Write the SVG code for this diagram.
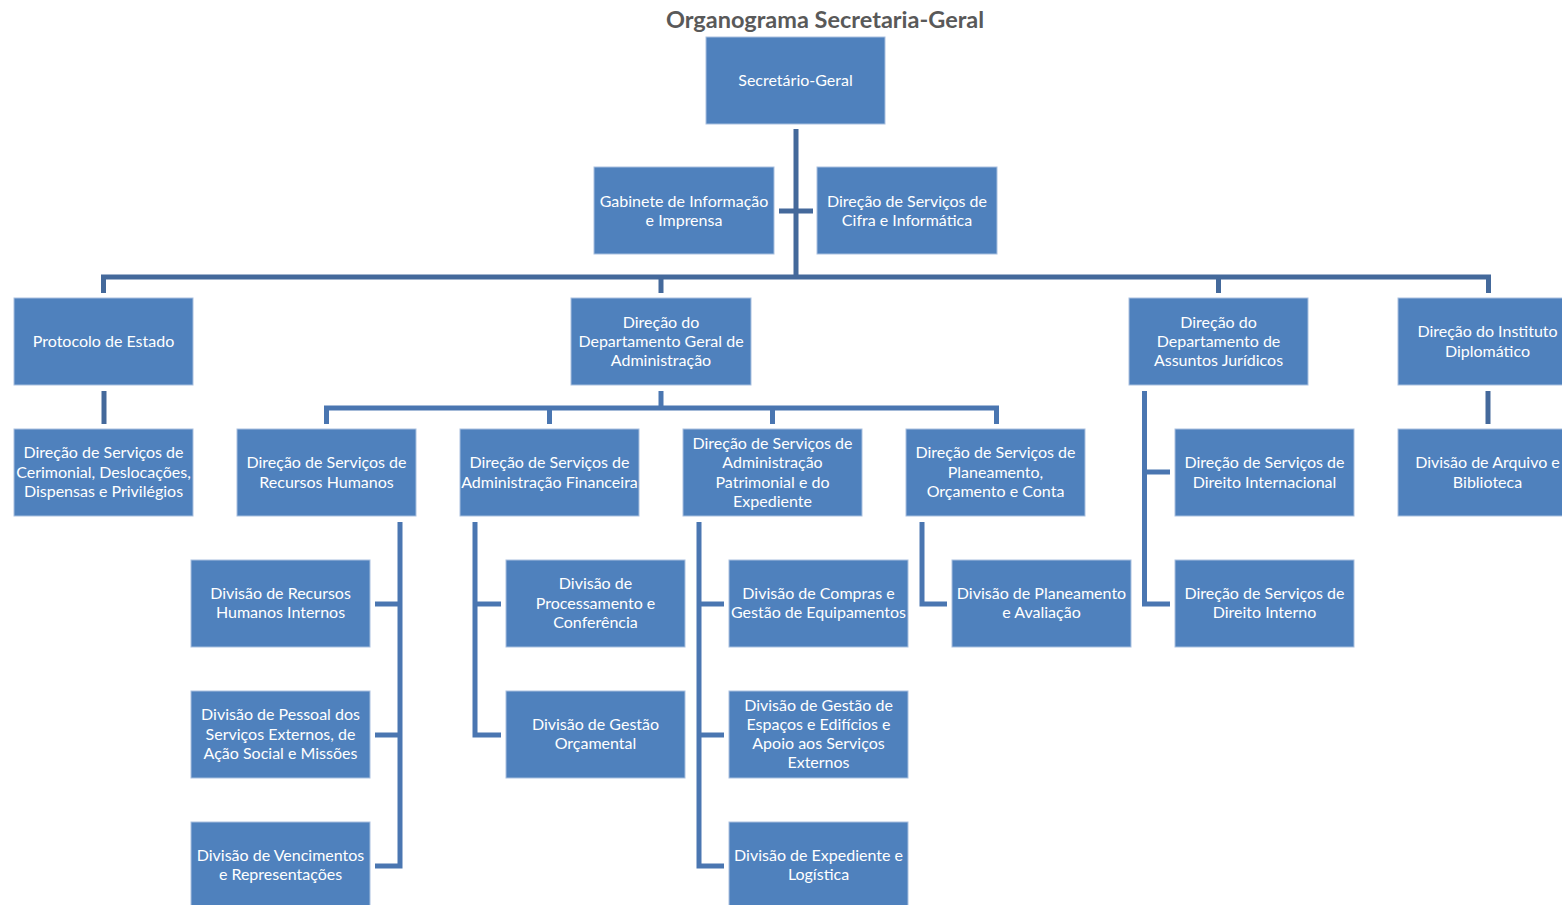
<svg xmlns="http://www.w3.org/2000/svg" width="1562" height="905" viewBox="0 0 1562 905">
<style>
.b{fill:#4F81BD;stroke:#A9C0DF;stroke-width:1}
.t{font-family:Lato,"Open Sans","Liberation Sans",sans-serif;font-size:16px;fill:#FFFFFF;text-anchor:middle}
.ti{font-family:Lato,"Open Sans","Liberation Sans",sans-serif;font-size:23.5px;font-weight:bold;fill:#595959;text-anchor:middle}
.c{fill:none;stroke:#44699B;stroke-width:5;stroke-linejoin:miter}
.c2{fill:none;stroke:#4A76B1;stroke-width:5;stroke-linejoin:miter}
</style>
<rect width="1562" height="905" fill="#FFFFFF"/>
<text class="ti" x="825" y="28">Organograma Secretaria-Geral</text>
<g id="connectors">
<path class="c" d="M796 129V277"/>
<path class="c" d="M779 211H813"/>
<path class="c" d="M103.5 293V277H1488.5V293"/>
<path class="c" d="M661 277V293"/>
<path class="c" d="M1218.5 277V293"/>
<path class="c" d="M104 391V424"/>
<path class="c" d="M1488 391V424"/>
<path class="c2" d="M661 391V408"/>
<path class="c2" d="M326.5 424V408H996.5V424"/>
<path class="c2" d="M549.5 408V424"/>
<path class="c2" d="M772.5 408V424"/>
<path class="c2" d="M1144.5 391V604H1170"/>
<path class="c2" d="M1144.5 472H1170"/>
<path class="c2" d="M400 522V866H375"/>
<path class="c2" d="M375 604H400"/>
<path class="c2" d="M375 735H400"/>
<path class="c2" d="M475 522V735H501"/>
<path class="c2" d="M475 604H501"/>
<path class="c2" d="M699 522V866H724"/>
<path class="c2" d="M699 604H724"/>
<path class="c2" d="M699 735H724"/>
<path class="c2" d="M922 522V604H947"/>
</g>
<g id="n-sg"><rect class="b" x="706" y="37" width="179" height="87"/><text class="t" x="795.5" y="86">Secretário-Geral</text></g>
<g id="n-gab"><rect class="b" x="594" y="167" width="180" height="87"/><text class="t" x="684" y="207">Gabinete de Informação</text><text class="t" x="684" y="226">e Imprensa</text></g>
<g id="n-cifra"><rect class="b" x="817" y="167" width="180" height="87"/><text class="t" x="907" y="207">Direção de Serviços de</text><text class="t" x="907" y="226">Cifra e Informática</text></g>
<g id="n-prot"><rect class="b" x="14" y="298" width="179" height="87"/><text class="t" x="103.5" y="347">Protocolo de Estado</text></g>
<g id="n-dga"><rect class="b" x="571" y="298" width="180" height="87"/><text class="t" x="661" y="328">Direção do</text><text class="t" x="661" y="347">Departamento Geral de</text><text class="t" x="661" y="366">Administração</text></g>
<g id="n-daj"><rect class="b" x="1129" y="298" width="179" height="87"/><text class="t" x="1218.5" y="328">Direção do</text><text class="t" x="1218.5" y="347">Departamento de</text><text class="t" x="1218.5" y="366">Assuntos Jurídicos</text></g>
<g id="n-idi"><rect class="b" x="1398" y="298" width="179" height="87"/><text class="t" x="1487.5" y="337">Direção do Instituto</text><text class="t" x="1487.5" y="357">Diplomático</text></g>
<g id="n-cer"><rect class="b" x="14" y="429" width="179" height="87"/><text class="t" x="103.5" y="458">Direção de Serviços de</text><text class="t" x="103.5" y="478">Cerimonial, Deslocações,</text><text class="t" x="103.5" y="497">Dispensas e Privilégios</text></g>
<g id="n-rh"><rect class="b" x="237" y="429" width="179" height="87"/><text class="t" x="326.5" y="468">Direção de Serviços de</text><text class="t" x="326.5" y="488">Recursos Humanos</text></g>
<g id="n-af"><rect class="b" x="460" y="429" width="179" height="87"/><text class="t" x="549.5" y="468">Direção de Serviços de</text><text class="t" x="549.5" y="488">Administração Financeira</text></g>
<g id="n-ap"><rect class="b" x="683" y="429" width="179" height="87"/><text class="t" x="772.5" y="449">Direção de Serviços de</text><text class="t" x="772.5" y="468">Administração</text><text class="t" x="772.5" y="488">Patrimonial e do</text><text class="t" x="772.5" y="507">Expediente</text></g>
<g id="n-poc"><rect class="b" x="906" y="429" width="179" height="87"/><text class="t" x="995.5" y="458">Direção de Serviços de</text><text class="t" x="995.5" y="478">Planeamento,</text><text class="t" x="995.5" y="497">Orçamento e Conta</text></g>
<g id="n-di"><rect class="b" x="1175" y="429" width="179" height="87"/><text class="t" x="1264.5" y="468">Direção de Serviços de</text><text class="t" x="1264.5" y="488">Direito Internacional</text></g>
<g id="n-arq"><rect class="b" x="1398" y="429" width="179" height="87"/><text class="t" x="1487.5" y="468">Divisão de Arquivo e</text><text class="t" x="1487.5" y="488">Biblioteca</text></g>
<g id="n-rhi"><rect class="b" x="191" y="560" width="179" height="87"/><text class="t" x="280.5" y="599">Divisão de Recursos</text><text class="t" x="280.5" y="618">Humanos Internos</text></g>
<g id="n-proc"><rect class="b" x="506" y="560" width="179" height="87"/><text class="t" x="595.5" y="589">Divisão de</text><text class="t" x="595.5" y="609">Processamento e</text><text class="t" x="595.5" y="628">Conferência</text></g>
<g id="n-comp"><rect class="b" x="729" y="560" width="179" height="87"/><text class="t" x="818.5" y="599">Divisão de Compras e</text><text class="t" x="818.5" y="618">Gestão de Equipamentos</text></g>
<g id="n-pla"><rect class="b" x="952" y="560" width="179" height="87"/><text class="t" x="1041.5" y="599">Divisão de Planeamento</text><text class="t" x="1041.5" y="618">e Avaliação</text></g>
<g id="n-dint"><rect class="b" x="1175" y="560" width="179" height="87"/><text class="t" x="1264.5" y="599">Direção de Serviços de</text><text class="t" x="1264.5" y="618">Direito Interno</text></g>
<g id="n-pes"><rect class="b" x="191" y="691" width="179" height="87"/><text class="t" x="280.5" y="720">Divisão de Pessoal dos</text><text class="t" x="280.5" y="740">Serviços Externos, de</text><text class="t" x="280.5" y="759">Ação Social e Missões</text></g>
<g id="n-orc"><rect class="b" x="506" y="691" width="179" height="87"/><text class="t" x="595.5" y="730">Divisão de Gestão</text><text class="t" x="595.5" y="749">Orçamental</text></g>
<g id="n-esp"><rect class="b" x="729" y="691" width="179" height="87"/><text class="t" x="818.5" y="711">Divisão de Gestão de</text><text class="t" x="818.5" y="730">Espaços e Edifícios e</text><text class="t" x="818.5" y="749">Apoio aos Serviços</text><text class="t" x="818.5" y="768">Externos</text></g>
<g id="n-ven"><rect class="b" x="191" y="822" width="179" height="87"/><text class="t" x="280.5" y="861">Divisão de Vencimentos</text><text class="t" x="280.5" y="880">e Representações</text></g>
<g id="n-exp"><rect class="b" x="729" y="822" width="179" height="87"/><text class="t" x="818.5" y="861">Divisão de Expediente e</text><text class="t" x="818.5" y="880">Logística</text></g>
</svg>
